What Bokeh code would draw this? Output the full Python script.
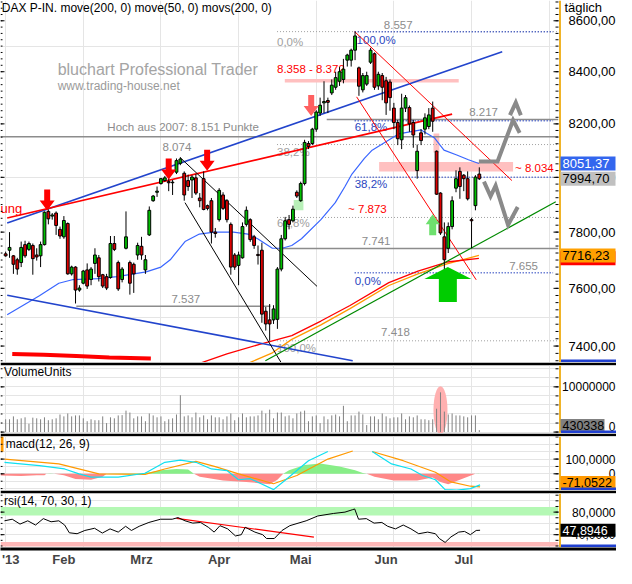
import math
from bokeh.plotting import figure
from bokeh.layouts import column
from bokeh.models import ColumnDataSource, Range1d, FixedTicker
from bokeh.core.properties import value
from bokeh.embed import file_html
from bokeh.resources import INLINE

FONT = "Liberation Sans"

# ---------------- DATA (trading-day index 0 = 11 Jan 2013) ----------------
open_ = [7722, 7735, 7715, 7701, 7691, 7755, 7738, 7752, 7718, 7715,
         7755, 7875, 7858, 7869, 7810, 7783, 7831, 7651, 7675, 7594,
         7618, 7665, 7631, 7688, 7708, 7648, 7641, 7638, 7759, 7691,
         7631, 7742, 7691, 7685, 7718, 7749, 7665, 7790, 7914, 7945,
         7977, 7988, 7984, 7980, 8019, 8052, 8015, 7988, 7990, 7998,
         7924, 7995, 7896, 7914, 7800, 7845, 7935, 7914, 7828, 7718,
         7681, 7708, 7828, 7845, 7783, 7720, 7735, 7520, 7490, 7490,
         7492, 7668, 7776, 7845, 7841, 7945, 7914, 7977, 8126, 8126,
         8180, 8241, 8280, 8289, 8318, 8340, 8363, 8370, 8445, 8445,
         8484, 8415, 8330, 8352, 8437, 8470, 8345, 8385, 8365, 8360,
         8260, 8205, 8140, 8260, 8262, 8205, 8025, 8166, 8180, 8190,
         8260, 8097, 7942, 7783, 7742, 7820, 7960, 8022, 8008, 7995,
         7845, 7896, 8012]
high = [7730, 7800, 7718, 7708, 7766, 7769, 7766, 7759, 7742, 7766,
        7875, 7882, 7869, 7875, 7820, 7858, 7835, 7680, 7678, 7611,
        7665, 7688, 7675, 7742, 7718, 7651, 7651, 7786, 7786, 7698,
        7675, 7875, 7698, 7691, 7762, 7783, 7718, 7893, 7935, 7966,
        7998, 8005, 8001, 7990, 8070, 8074, 8022, 8010, 8008, 8012,
        7942, 8022, 7900, 7924, 7815, 7960, 7945, 7920, 7835, 7725,
        7730, 7835, 7893, 7850, 7790, 7752, 7762, 7535, 7545, 7541,
        7675, 7790, 7855, 7862, 7896, 7952, 7984, 8140, 8135, 8185,
        8252, 8300, 8363, 8300, 8370, 8400, 8418, 8450, 8470, 8490,
        8557, 8420, 8395, 8400, 8493, 8475, 8400, 8395, 8380, 8370,
        8280, 8215, 8315, 8310, 8270, 8215, 8122, 8180, 8240, 8260,
        8285, 8100, 7945, 7835, 7835, 7930, 8026, 8037, 8012, 8022,
        7852, 8008, 8037]
low = [7712, 7708, 7651, 7648, 7675, 7708, 7732, 7648, 7698, 7675,
       7752, 7828, 7845, 7790, 7776, 7776, 7648, 7645, 7547, 7588,
       7614, 7598, 7611, 7651, 7624, 7601, 7594, 7634, 7732, 7591,
       7621, 7738, 7578, 7584, 7701, 7701, 7651, 7786, 7910, 7928,
       7973, 7984, 7949, 7935, 8012, 8045, 7914, 7950, 7924, 7935,
       7890, 7879, 7879, 7759, 7780, 7838, 7880, 7835, 7648, 7665,
       7611, 7705, 7820, 7765, 7740, 7684, 7480, 7453, 7418, 7476,
       7459, 7660, 7770, 7810, 7835, 7924, 7910, 7970, 8105, 8120,
       8170, 8230, 8241, 8241, 8310, 8330, 8345, 8355, 8420, 8420,
       8445, 8307, 8320, 8345, 8430, 8330, 8330, 8290, 8234, 8250,
       8180, 8120, 8105, 8245, 8170, 8110, 7995, 8120, 8160, 8180,
       8170, 7935, 7790, 7655, 7725, 7810, 7945, 7921, 7949, 7915,
       7742, 7879, 7990]
close = [7715, 7745, 7685, 7668, 7745, 7715, 7759, 7705, 7711, 7755,
         7872, 7848, 7862, 7824, 7786, 7842, 7651, 7675, 7594, 7601,
         7661, 7608, 7668, 7718, 7641, 7608, 7601, 7759, 7738, 7598,
         7668, 7783, 7618, 7651, 7752, 7718, 7701, 7879, 7931, 7949,
         7995, 7998, 7980, 7982, 8062, 8068, 7935, 7966, 8001, 7942,
         7914, 7882, 7886, 7800, 7795, 7952, 7886, 7845, 7675, 7675,
         7718, 7820, 7879, 7773, 7752, 7716, 7510, 7476, 7476, 7528,
         7668, 7776, 7841, 7828, 7883, 7931, 7977, 8130, 8115, 8180,
         8245, 8271, 8285, 8282, 8348, 8377, 8400, 8410, 8465, 8484,
         8540, 8344, 8385, 8385, 8484, 8340, 8390, 8340, 8280, 8300,
         8205, 8144, 8260, 8300, 8200, 8158, 8097, 8137, 8223, 8234,
         8210, 7938, 7797, 7701, 7820, 7914, 7995, 7966, 7995, 7921,
         7841, 8001, 7994.7]
volume = [2830000, 2830000, 3470000, 2830000, 3040000, 3260000, 1840000, 3190000, 3040000, 2830000,
          3260000, 2620000, 2830000, 3040000, 3890000, 3470000, 4110000, 3470000, 3680000, 3680000,
          3040000, 2400000, 2830000, 2620000, 2620000, 3470000, 1980000, 3260000, 3040000, 3680000,
          3750000, 4740000, 4320000, 3040000, 3470000, 3470000, 2400000, 4110000, 3680000, 3260000,
          3470000, 2400000, 2830000, 3040000, 3890000, 8150000, 3470000, 3680000, 3260000, 4320000,
          3260000, 3680000, 2830000, 3680000, 3260000, 3260000, 2830000, 3470000, 4110000, 2620000,
          3260000, 4110000, 3260000, 3470000, 3470000, 3680000, 4740000, 4110000, 4960000, 3040000,
          4320000, 4320000, 3470000, 3680000, 3040000, 4110000, 4530000, 4740000, 2400000, 3470000,
          3680000, 1980000, 3470000, 2830000, 3680000, 3890000, 3470000, 5810000, 2400000, 3680000,
          3680000, 4530000, 3890000, 1550000, 3470000, 3470000, 2830000, 4110000, 3470000, 3040000,
          3260000, 3260000, 4110000, 2830000, 3470000, 3260000, 3680000, 2830000, 2830000, 2620000,
          2830000, 5170000, 8790000, 4530000, 3890000, 4110000, 3680000, 3680000, 3470000, 3260000,
          3680000, 3680000, 430338]

month_pos = [1.3, 15, 35, 55, 76, 98, 118]
month_lab = ["'13", "Feb", "Mrz", "Apr", "Mai", "Jun", "Jul"]

price_ticks = [7400, 7600, 7800, 8000, 8200, 8400, 8600]
price_tick_labels = ["7400,00", "7600,00", "7800,00", "8000,00", "8200,00", "8400,00", "8600,00"]

# moving averages
ma50_x = [0.4, 8.7, 13.7, 17.4, 23.7, 28.7, 36.2, 40, 42.4, 46.2, 49.9, 53.7, 58.7, 62.4, 64.9,
          68.7, 71.2, 73.7, 76.2, 81.2, 84.9, 87.4, 89.2, 92.4, 94.4, 101.2, 107, 110.4, 112.9,
          116.2, 119.2, 121.9]
ma50_y = [7508, 7574, 7618, 7631, 7634, 7641, 7658, 7675, 7701, 7766, 7793, 7800, 7800, 7793, 7776,
          7742, 7742, 7752, 7776, 7845, 7907, 7966, 8012, 8070, 8101, 8162, 8177, 8148, 8101,
          8083, 8065, 8051.37]
ma200_red_x = [47.5, 57, 65.4, 73.7, 81.2, 88.7, 98.7, 106.2, 113.7, 121.9]
ma200_red_y = [7330, 7373, 7406, 7436, 7486, 7540, 7620, 7661, 7693, 7706]
ma200_org_x = [60.5, 68.7, 73.7, 81.2, 88.7, 98.7, 106.2, 113.7, 121.9]
ma200_org_y = [7330, 7377, 7423, 7473, 7529, 7610, 7651, 7686, 7716.23]
old_red_x = [1.7, 9.8, 18.2, 26.7, 37.4]
old_red_y = [7373, 7370, 7366, 7361, 7358]

# drawn trend lines: (x0, y0, x1, y1)
blue_channel = [(0.4, 7833, 127.9, 8478), (0.4, 7576, 89.4, 7350)]
red_trend = [(0.4, 7851, 115.0, 8237)]
black_trend = [(44.9, 8074, 80.2, 7607), (46.2, 7907, 72.5, 7310)]
red_thin = [(89.9, 8557, 130.4, 7988), (90.4, 8303, 121.2, 7630)]
green_trend = [(66.9, 7350, 141.7, 7910)]

# horizontal levels: (price, x_start, x_end)
gray_levels = [(8151, -1.4, 142.4), (7537, 18.2, 68.2), (7741, 71.2, 142.4), (8217, 82.7, 142.4)]
fib_gray = [8557, 8122, 7853, 7418]
fib_blue = [8557, 8212, 8000, 7655]

# zones: (x0, x1, p0, p1)
pink_zones = [(71.9, 116.7, 8358, 8372), (96.2, 130.7, 8022, 8057), (110.2, 111.7, 8092, 8164)]
green_zone = [(74.2, 76.7, 7879, 7917)]

# signal arrows: tip position (index, price)
red_arrows = [(10.7, 7878), (42.0, 7992), (51.9, 8024)]
light_red_arrows = [(78.7, 8230)]
small_green_arrows = [(110.0, 7865)]
big_green_arrows = [(113.9, 7675)]

# projected paths
proj_up_x = [121.9, 126.7, 130.7, 132.4]
proj_up_y = [8059, 8059, 8214, 8166]
proj_head_x = [129.9, 131.4, 132.7]
proj_head_y = [8233, 8281, 8233]
proj_dn_x = [123.2, 124.9, 126.2, 129.4, 131.9]
proj_dn_y = [7984, 7930, 7969, 7826, 7891]

# MACD
macd_x = [-0.3, 8.7, 15.2, 18.9, 22, 29, 35.9, 41, 45, 49, 53, 57, 60, 63, 69, 72, 78, 83, 84,
          94.4, 99.4, 104.4, 107.4, 110.7, 113.2, 116.2, 119.7, 122.2]
macd_y = [78, 55, 33, 0, -22, -22, 4, 78, 93, 78, 33, 22, -40, -33, -107, -44, 89, 151, float("nan"),
          151, 67, 33, -11, -40, -107, -111, -100, -75]
sig_x = [-0.3, 13.7, 24, 35.9, 41, 49, 54, 60, 69, 75, 83, 89.4, 90,
         94.4, 102.4, 110.7, 114.7, 119.7, 122.2]
sig_y = [100, 67, 0, -4, 33, 84, 49, 0, -67, -11, 100, 155, float("nan"),
         151, 89, 11, -55, -84, -89]
hist_x = [-1.3, 4, 8, 10, 10.5, 11.5, 12.5, 15, 18, 22, 25, 26, 27, 35, 37, 40, 44, 47, 48.5, 50,
          56, 62, 68, 70, 71.5, 73, 77, 81, 86, 90, 92, 93, 95, 100, 106, 110, 112, 114, 116, 119,
          121, 122]
hist_y = [-12, -15, -10, -10, 0, 3, 0, -10, -35, -40, -20, 0, 3, 4, 10, 25, 33, 30, 0, -20,
          -45, -55, -70, -40, 0, 25, 60, 70, 50, 25, 5, 0, -20, -45, -45, -25, -55, -70, -50, -20,
          0, 3]

# RSI
rsi_x = [-0.3, 1.7, 3.7, 5.7, 7.7, 9.7, 11.7, 13.7, 15.2, 16.4, 18.4, 20.4, 22.9, 24.9, 26.9, 29,
         30.9, 32.4, 34.4, 36.9, 39.9, 42.9, 44.4, 46.2, 48.2, 50.2, 52.2, 53.7, 55.2, 57.2, 59.2,
         60.7, 61.7, 64.2, 66.2, 67.2, 69.2, 71.2, 73.2, 77.4, 80.4, 84.4, 87.4, 89.4, 89.9, 90.9,
         92.9, 94.9, 96.9, 98.4, 100.4, 102.4, 104.4, 106.4, 108.7, 110.7, 111.7, 113.2, 114.7,
         116.7, 118.2, 119.7, 121.2, 122.2]
rsi_y = [64.6, 67.4, 58.8, 64.6, 57.1, 68.5, 62.9, 64.6, 57.1, 43.4, 41.7, 47.5, 51.4, 42.9, 50.3,
         44.6, 54.9, 47.5, 54.9, 61.7, 67.4, 67.4, 70.3, 64.6, 60.5, 61.7, 53.2, 44.6, 56.0, 50.3,
         37.8, 40.0, 53.2, 44.6, 40.0, 33.2, 33.2, 47.5, 56.0, 64.6, 73.2, 77.6, 80.0, 84.4, 85.6,
         67.4, 68.5, 60.5, 61.7, 54.9, 50.3, 57.1, 50.3, 41.7, 44.6, 41.7, 33.2, 26.3, 36.1, 44.6,
         45.8, 40.0, 47.5, 47.8946]
rsi_trend = [(44.0, 69.0, 79.4, 35.6)]
rsi_upper_band = (74, 89)
rsi_lower_band = (19, 27)

# ---------------- LAYOUT ----------------
W = 616            # full frame width (plot area + right scale area)
PW = 558           # width of the chart area
H_MAIN, H_VOL, H_MACD, H_RSI = 362, 68, 54, 54
X0, X1 = -1.325, 142.4
XPX = (X1 - X0) / PW
XMAX = X0 + W * XPX
Y0, Y1 = 7344.0, 8681.0
xr = Range1d(X0, XMAX)
AXIS_COL = "#f0b428"
LOGSPAN = math.log(Y1 / Y0)


def base_fig(h, yr, log=False, top_sep=0):
    p = figure(frame_width=W, frame_height=h, x_range=xr, y_range=yr,
               y_axis_type="log" if log else "linear", y_axis_location=None,
               x_axis_location=None, toolbar_location=None, output_backend="svg",
               min_border_left=0, min_border_right=0, min_border_top=top_sep, min_border_bottom=0,
               outline_line_color=None, background_fill_color="white",
               border_fill_color="black" if top_sep else "white")
    return p


def texts(p, rows, size="11px", font=FONT, align="left"):
    src = ColumnDataSource(dict(x=[r[1] for r in rows], y=[r[2] for r in rows],
                                t=[r[0] for r in rows], dy=[r[3] for r in rows],
                                c=[r[4] for r in rows]))
    p.text(x="x", y="y", text="t", y_offset="dy", text_color="c", source=src,
           text_font=value(font), text_font_size=value(size),
           text_baseline="middle", text_align=align)


def scale_area(p, ybot, ytop, ticks, labels, minor, fs="13px", label_pos=None):
    # small ticks on the left edge
    p.segment(x0=[X0] * len(minor), y0=minor, x1=[X0 + 2 * XPX] * len(minor), y1=minor,
              line_color="black", line_width=1)
    p.segment(x0=[X0] * len(ticks), y0=ticks, x1=[X0 + 4 * XPX] * len(ticks), y1=ticks,
              line_color="black", line_width=1)
    # right scale
    p.quad(left=[X1], right=[XMAX], bottom=[ybot], top=[ytop], fill_color="white", line_color=None)
    p.segment(x0=[X1 - 3 * XPX] * len(minor), y0=minor, x1=[X1] * len(minor), y1=minor,
              line_color="black", line_width=1)
    p.segment(x0=[X1 - 5 * XPX] * len(ticks), y0=ticks, x1=[X1] * len(ticks), y1=ticks,
              line_color="black", line_width=1)
    p.segment(x0=[X1 + 1.5 * XPX], y0=[ybot], x1=[X1 + 1.5 * XPX], y1=[ytop],
              line_color=AXIS_COL, line_width=2)
    pos = label_pos if label_pos is not None else ticks
    texts(p, [(lab, XMAX - 1 * XPX, t, 0, "black") for t, lab in zip(pos, labels)],
          size=fs, align="right")


def blue_foot(p, ybot_val):
    p.segment(x0=[X1 + 2.5 * XPX], y0=[ybot_val], x1=[XMAX], y1=[ybot_val],
              line_color="#2040d0", line_width=3)


def tag(p, val, text, bg, fg, w=55, h=14, fs="13px"):
    p.rect(x=[X1 + (2 + w / 2) * XPX], y=[val], width=w, height=h, width_units="screen",
           height_units="screen", fill_color=bg, line_color=None)
    texts(p, [(text, X1 + 4 * XPX, val, 0, fg)], size=fs)


def arrow_shape(tip, pts):
    ti, tp = tip
    xs = [ti + dx * XPX for dx, dy in pts]
    ys = [tp * math.exp(-dy * LOGSPAN / H_MAIN) for dx, dy in pts]
    return xs, ys


# ================= MAIN PANEL =================
p1 = base_fig(H_MAIN, Range1d(Y0, Y1), log=True)

for (a, b, lo, hi) in pink_zones:
    p1.quad(left=[a], right=[b], bottom=[lo], top=[hi], fill_color="#ffc0c0", line_color=None)
for (a, b, lo, hi) in green_zone:
    p1.quad(left=[a], right=[b], bottom=[lo], top=[hi], fill_color="#b8f0b8", line_color=None)

for (lv, a, b) in gray_levels:
    p1.segment(x0=[a], y0=[lv], x1=[b], y1=[lv], line_color="#8c8c8c", line_width=1.5)
p1.segment(x0=[69.9] * 4, y0=fib_gray, x1=[X1] * 4, y1=fib_gray,
           line_color="#a0a0a0", line_width=1, line_dash="1 2")
p1.segment(x0=[89.9] * 4, y0=fib_blue, x1=[141.0] * 4, y1=fib_blue,
           line_color="#2a46c0", line_width=1.5, line_dash="1 2")

gray = "#8c8c8c"
blue = "#2a46c0"
red = "#ff0000"
texts(p1, [
    ("8.557", 97.4, fib_gray[0], -7, gray),
    ("0,0%", 69.9, fib_gray[0], 10, "#a0a0a0"),
    ("100,0%", 90.4, fib_blue[0], 8, blue),
    ("8.358 - 8.372", 69.9, 8372, -10, red),
    ("8.217", 119.4, 8217, -7, gray),
    ("61,8%", 89.9, fib_blue[1], 6, blue),
    ("Hoch aus 2007: 8.151 Punkte", 26.2, 8151, -10, gray),
    ("8.074", 40.4, 8074, -10, gray),
    ("38,2%", 69.9, fib_gray[1], 7, "#a0a0a0"),
    ("38,2%", 89.9, fib_blue[2], 7, blue),
    ("~ 8.034", 131.2, 8034, 0, red),
    ("~ 7.873", 88.2, 7873, -3, red),
    ("61,8%", 69.9, fib_gray[2], 6, "#a0a0a0"),
    ("7.741", 91.7, 7741, -8, gray),
    ("7.537", 42.7, 7537, -7, gray),
    ("7.655", 129.7, 7655, -7, gray),
    ("0,0%", 89.9, fib_blue[3], 8, blue),
    ("7.418", 96.7, 7418, -9, gray),
    ("100,0%", 69.9, fib_gray[3], 7, "#a0a0a0"),
], size="11.5px")

texts(p1, [("bluchart Professional Trader", 13.4, 8407, 0, "#a4a4a4")], size="16px")
texts(p1, [("www.trading-house.net", 13.4, 8344, 0, "#9a9a9a")], size="12px")

# moving averages
p1.line(old_red_x, old_red_y, line_color=red, line_width=4)
p1.line(ma50_x, ma50_y, line_color="#3a66ff", line_width=1.2)
p1.line(ma200_org_x, ma200_org_y, line_color="#ff9a00", line_width=1.3)
p1.line(ma200_red_x, ma200_red_y, line_color=red, line_width=1.3)

# trend lines
for (a, b, c, d) in blue_channel:
    p1.segment(x0=[a], y0=[b], x1=[c], y1=[d], line_color="#2244cc", line_width=1.6)
for (a, b, c, d) in red_trend:
    p1.segment(x0=[a], y0=[b], x1=[c], y1=[d], line_color=red, line_width=1.6)
for (a, b, c, d) in black_trend:
    p1.segment(x0=[a], y0=[b], x1=[c], y1=[d], line_color="black", line_width=1)
for (a, b, c, d) in red_thin:
    p1.segment(x0=[a], y0=[b], x1=[c], y1=[d], line_color=red, line_width=1)
for (a, b, c, d) in green_trend:
    p1.segment(x0=[a], y0=[b], x1=[c], y1=[d], line_color="#008a00", line_width=1.2)

# candles
idx = list(range(len(open_)))
cs = ColumnDataSource(dict(
    x=idx, high=high, low=low,
    top=[max(o, c) for o, c in zip(open_, close)],
    bottom=[min(o, c) for o, c in zip(open_, close)],
    color=["#00c000" if c >= o else "#dd0000" for o, c in zip(open_, close)]))
p1.segment(x0="x", y0="high", x1="x", y1="low", source=cs, line_color="black", line_width=1)
p1.vbar(x="x", width=0.72, top="top", bottom="bottom", source=cs,
        fill_color="color", line_color="black", line_width=1)

# arrows
red_pts = [(0, 0), (-7.5, -10), (-3, -10), (-3, -21), (3, -21), (3, -10), (7.5, -10)]
sg_pts = [(0, 0), (7, 10), (3.5, 10), (3.5, 21), (-3.5, 21), (-3.5, 10), (-7, 10)]
bg_pts = [(0, 0), (23.5, 12), (9, 12), (9, 35), (-9, 35), (-9, 12), (-23.5, 12)]
for tip in red_arrows:
    xs, ys = arrow_shape(tip, red_pts)
    p1.patch(xs, ys, fill_color="#ff0000", line_color=None)
for tip in light_red_arrows:
    xs, ys = arrow_shape(tip, red_pts)
    p1.patch(xs, ys, fill_color="#ff6060", line_color=None)
for tip in small_green_arrows:
    xs, ys = arrow_shape(tip, sg_pts)
    p1.patch(xs, ys, fill_color="#6ee06e", line_color=None)
for tip in big_green_arrows:
    xs, ys = arrow_shape(tip, bg_pts)
    p1.patch(xs, ys, fill_color="#00cc00", line_color=None)

# projection paths
for xs, ys in [(proj_up_x, proj_up_y), (proj_head_x, proj_head_y), (proj_dn_x, proj_dn_y)]:
    p1.line(xs, ys, line_color="#8a8a8a", line_width=4, line_join="miter")

texts(p1, [("DAX P-IN. move(200, 0) move(50, 0) movs(200, 0)", -1.0, 8652, 0, "black")], size="12px")
texts(p1, [("ung", -1.3, 7886, 0, red)], size="13px")

# right price scale
scale_area(p1, Y0, Y1, price_ticks, price_tick_labels, list(range(7350, 8700, 25)))
texts(p1, [("täglich", X1 + 6 * XPX, 8652, 0, "black")], size="13px")
tag(p1, ma200_red_y[-1], "", "#ff0000", "#ff0000")
tag(p1, ma200_org_y[-1], "7716,23", "#ffa000", "black")
tag(p1, ma50_y[-1], "8051,37", "#3366ee", "white")
tag(p1, close[-1], "7994,70", "#c0c0c0", "black")
blue_foot(p1, Y0 * math.exp(1.5 * LOGSPAN / H_MAIN))

# ================= VOLUME =================
VY0, VY1 = -0.32e6, 14.73e6
VPX = (VY1 - VY0) / H_VOL
p2 = base_fig(H_VOL, Range1d(VY0, VY1), top_sep=3)
spike = volume.index(max(volume[100:]))
p2.ellipse(x=[spike], y=[volume[spike] * 0.55], width=14, height=48,
           width_units="screen", height_units="screen", fill_color="#ffb0b0", line_color=None)
p2.segment(x0=idx, y0=[0] * len(idx), x1=idx, y1=volume, line_color="#808080", line_width=1)
texts(p2, [("VolumeUnits", -0.4, 13.2e6, 0, "black")], size="12px")
scale_area(p2, VY0, VY1, [0, 10000000], ["0", "10000000"], list(range(0, 15000000, 2000000)),
           fs="12px", label_pos=[VY0 + 7.5 * VPX, 10000000])
tag(p2, VY0 + 8 * VPX, "430338", "#808080", "black", w=44, h=13, fs="12.5px")
blue_foot(p2, VY0 + 1.5 * VPX)

# ================= MACD =================
MY0, MY1 = -113, 253
MPX = (MY1 - MY0) / H_MACD
p3 = base_fig(H_MACD, Range1d(MY0, MY1), top_sep=3)
p3.varea(x=hist_x, y1=[0] * len(hist_x), y2=[max(v, 0) for v in hist_y], fill_color="#88ee88")
p3.varea(x=hist_x, y1=[0] * len(hist_x), y2=[min(v, 0) for v in hist_y], fill_color="#ff8888")
p3.line(sig_x, sig_y, line_color="#ff9900", line_width=1.2)
p3.line(macd_x, macd_y, line_color="#10e0f0", line_width=1.2)
p3.quad(left=[X0], right=[X0 + 3 * XPX], bottom=[150], top=[253], fill_color="#ff9900", line_color=None)
texts(p3, [("macd(12, 26, 9)", 0.0, 200, 0, "black")], size="12px")
scale_area(p3, MY0, MY1, [0, 100], ["0", "100,0000"], list(range(-100, 251, 50)), fs="12px")
tag(p3, max(-71.0522, MY0 + 8 * MPX), "-71,0522", "#ff9900", "black", w=55, h=13, fs="12.5px")
blue_foot(p3, MY0 + 1.5 * MPX)

# ================= RSI =================
RY0, RY1 = 17.3, 113
RPX = (RY1 - RY0) / H_RSI
p4 = base_fig(H_RSI, Range1d(RY0, RY1), top_sep=3)
p4.quad(left=[X0], right=[X1], bottom=[rsi_upper_band[0]], top=[rsi_upper_band[1]],
        fill_color="#b4f8b4", line_color=None)
p4.quad(left=[X0], right=[X1], bottom=[rsi_lower_band[0]], top=[rsi_lower_band[1]],
        fill_color="#ffb8b8", line_color=None)
for (a, b, c, d) in rsi_trend:
    p4.segment(x0=[a], y0=[b], x1=[c], y1=[d], line_color=red, line_width=1.2)
p4.line(rsi_x, rsi_y, line_color="black", line_width=1)
texts(p4, [("rsi(14, 70, 30, 1)", -0.4, 99, 0, "black")], size="12px")
scale_area(p4, RY0, RY1, [40, 80], ["40,0000", "80,0000"], list(range(20, 111, 10)), fs="12px")
tag(p4, rsi_y[-1], "47,8946", "black", "white", w=55, h=13, fs="12.5px")
blue_foot(p4, RY0 + 1.5 * RPX)

# ================= DATE AXIS =================
p5 = figure(frame_width=W, frame_height=3, x_range=xr, y_range=Range1d(0, 1),
            y_axis_location=None, x_axis_location="below", toolbar_location=None,
            output_backend="svg", min_border_left=0, min_border_right=0, min_border_top=0,
            min_border_bottom=0, outline_line_color=None, background_fill_color="black",
            border_fill_color="white")
p5.xgrid.visible = False
p5.ygrid.visible = False
xa = p5.xaxis[0]
xa.ticker = FixedTicker(ticks=month_pos)
xa.major_label_overrides = dict(zip(month_pos, month_lab))
xa.axis_line_color = None
xa.major_tick_out = 0
xa.major_tick_in = 0
xa.minor_tick_out = 0
xa.minor_tick_in = 0
xa.major_label_text_font = FONT
xa.major_label_text_font_size = "13px"
xa.major_label_text_font_style = "bold"
xa.major_label_standoff = 1

layout = column(p1, p2, p3, p4, p5, spacing=0)
open("out.html", "w").write(file_html(layout, INLINE))
